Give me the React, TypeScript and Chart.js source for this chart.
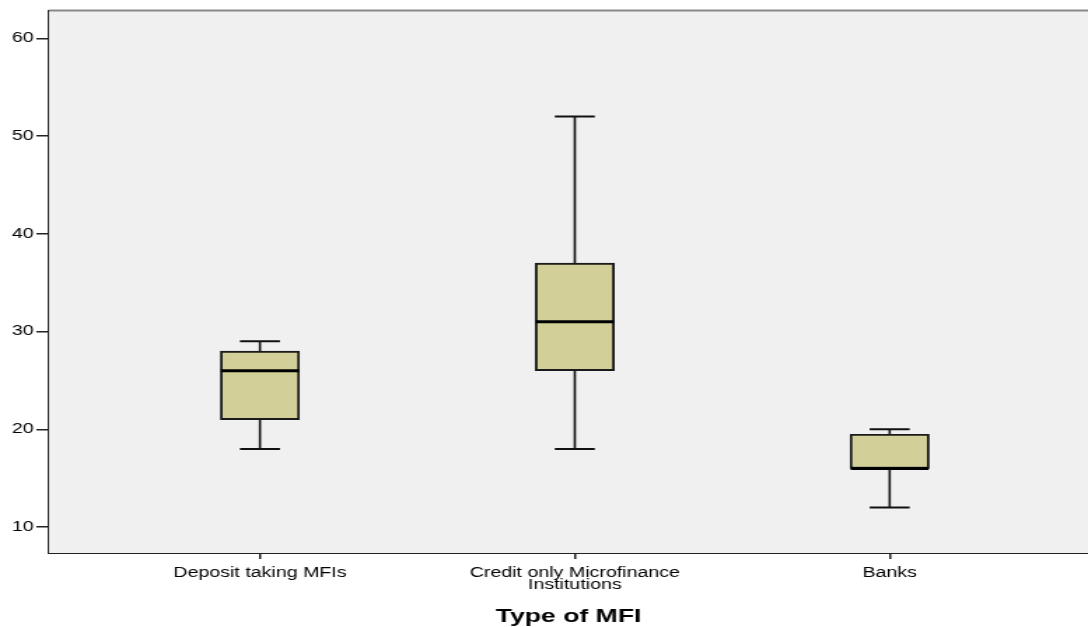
import React, { useEffect, useRef } from "react";
import { Chart, registerables } from "chart.js";

Chart.register(...registerables);

const categories: string[][] = [["Deposit taking MFIs"], ["Credit only Microfinance", "Institutions"], ["Banks"]];
const positions = [1, 2, 3];
const mins = [18, 18, 12];
const q1s = [21, 26, 16];
const medians = [26, 31, 16];
const q3s = [28, 37, 19.5];
const maxs = [29, 52, 20];
const yTicks = [10, 20, 30, 40, 50, 60];

const FONT = "'Liberation Sans', Arial, sans-serif";
const W = 1088;
const H = 627;
const S = 1.4; // horizontal stretch of the reference image
const IW = Math.round(W / S);

export default function App() {
  const ref = useRef<HTMLCanvasElement | null>(null);
  useEffect(() => {
    if (!ref.current) return;
    const boxPlugin = {
      id: "boxPlugin",
      beforeDatasetsDraw(chart: any) {
        const { ctx, chartArea } = chart;
        ctx.save();
        ctx.fillStyle = "#f0f0f0";
        ctx.fillRect(chartArea.left, chartArea.top, chartArea.right - chartArea.left, chartArea.bottom - chartArea.top);
        ctx.strokeStyle = "#888";
        ctx.lineWidth = 2;
        ctx.beginPath();
        ctx.moveTo(chartArea.left, chartArea.top);
        ctx.lineTo(chartArea.right, chartArea.top);
        ctx.stroke();
        const xs = chart.scales.x;
        const ys = chart.scales.y;
        ctx.strokeStyle = "#111";
        positions.forEach((p, i) => {
          const cx = xs.getPixelForValue(p);
          const half = 20 / S;
          const yMin = ys.getPixelForValue(mins[i]);
          const yMax = ys.getPixelForValue(maxs[i]);
          const yQ1 = ys.getPixelForValue(q1s[i]);
          const yQ3 = ys.getPixelForValue(q3s[i]);
          ctx.lineWidth = 1.6;
          ctx.beginPath();
          ctx.moveTo(cx, yQ3);
          ctx.lineTo(cx, yMax);
          ctx.moveTo(cx, yQ1);
          ctx.lineTo(cx, yMin);
          ctx.stroke();
          ctx.lineWidth = 2;
          ctx.beginPath();
          ctx.moveTo(cx - half, yMax);
          ctx.lineTo(cx + half, yMax);
          ctx.moveTo(cx - half, yMin);
          ctx.lineTo(cx + half, yMin);
          ctx.stroke();
        });
        ctx.restore();
      },
      afterDatasetsDraw(chart: any) {
        const { ctx } = chart;
        const xs = chart.scales.x;
        const ys = chart.scales.y;
        ctx.save();
        ctx.strokeStyle = "#000";
        ctx.lineWidth = 3;
        positions.forEach((p, i) => {
          const cx = xs.getPixelForValue(p);
          const y = ys.getPixelForValue(medians[i]);
          ctx.beginPath();
          ctx.moveTo(cx - 39 / S, y);
          ctx.lineTo(cx + 39 / S, y);
          ctx.stroke();
        });
        ctx.restore();
      },
    };

    const chart = new Chart(ref.current, {
      type: "bar",
      data: {
        datasets: [
          {
            data: positions.map((p, i) => ({ x: p, y: [q1s[i], q3s[i]] })) as any,
            backgroundColor: "#d3cf98",
            borderColor: "#1a1a1a",
            borderWidth: 1.9,
            borderSkipped: false,
            barThickness: 79 / S,
          },
        ],
      },
      options: {
        responsive: false,
        animation: false,
        devicePixelRatio: 1,
        layout: { padding: { top: 8, right: 0, left: 0, bottom: 0 } },
        plugins: { legend: { display: false }, tooltip: { enabled: false } },
        scales: {
          x: {
            type: "linear",
            offset: false,
            min: 0.33,
            max: 3.63,
            afterBuildTicks(scale: any) {
              scale.ticks = positions.map((v) => ({ value: v }));
            },
            afterFit(scale: any) {
              scale.height = 74;
            },
            ticks: {
              autoSkip: false,
              maxRotation: 0,
              padding: 8,
              color: "#000",
              font: { family: FONT, size: 14, lineHeight: 0.85 },
              callback: (v: any) => {
                const idx = positions.indexOf(Number(v));
                return idx >= 0 ? categories[idx] : "";
              },
            },
            grid: { drawOnChartArea: false, offset: false, tickLength: 6, color: "#222", lineWidth: 1.5 },
            border: { display: true, color: "#222", width: 2 },
            title: {
              display: true,
              text: "Type of MFI",
              color: "#000",
              font: { family: FONT, size: 19, weight: "bold" },
              padding: { top: 6, bottom: -1 },
            },
          },
          y: {
            min: 7.35,
            max: 62.85,
            afterBuildTicks(scale: any) {
              scale.ticks = yTicks.map((v) => ({ value: v }));
            },
            afterFit(scale: any) {
              scale.width = 49 / S;
            },
            ticks: {
              padding: 2,
              color: "#000",
              font: { family: FONT, size: 14 },
            },
            grid: { drawOnChartArea: false, tickLength: 9, color: "#222", lineWidth: 1.5 },
            border: { display: true, color: "#222", width: 1.5 },
          },
        },
      } as any,
      plugins: [boxPlugin],
    });
    return () => chart.destroy();
  }, []);
  return (
    <div style={{ position: "fixed", left: 0, top: 0, width: W, height: H, background: "#fff" }}>
      <canvas ref={ref} width={IW} height={H} style={{ display: "block", width: W + "px", height: H + "px" }} />
    </div>
  );
}
